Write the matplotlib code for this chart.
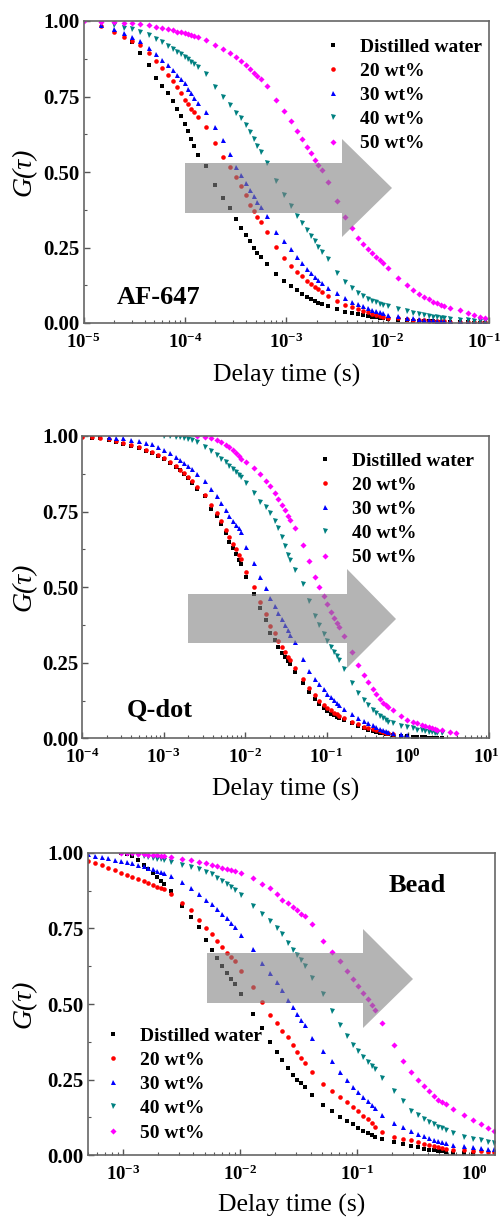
import numpy as np
import matplotlib
matplotlib.use('Agg')
import matplotlib.pyplot as plt
import matplotlib.transforms as mtransforms
from matplotlib.patches import Polygon
from matplotlib.ticker import FixedLocator, FuncFormatter, LogLocator, NullFormatter, FormatStrFormatter

nan = np.nan

SERIES_LABELS = ['Distilled water', '20 wt%', '30 wt%', '40 wt%', '50 wt%']

# ---------------- Panel 1: AF-647 ----------------
AF_X = [1.0e-5, 1.5e-5, 2.0e-5, 2.5e-5, 3.0e-5, 3.6e-5, 4.4e-5, 5.2e-5, 6.0e-5, 6.8e-5, 7.6e-5, 8.4e-5, 9.2e-5, 1.0e-4, 1.08e-4, 1.16e-4, 1.24e-4, 1.35e-4,
        1.6e-4, 2.0e-4, 2.4e-4, 2.8e-4, 3.2e-4, 3.6e-4, 4.0e-4, 4.4e-4, 4.8e-4, 5.2e-4, 5.6e-4,
        6.4e-4, 8.0e-4, 9.6e-4, 1.12e-3, 1.28e-3, 1.44e-3, 1.6e-3, 1.76e-3, 1.92e-3, 2.08e-3, 2.24e-3,
        2.56e-3, 3.2e-3, 3.84e-3, 4.48e-3, 5.12e-3, 5.76e-3, 6.4e-3, 7.04e-3, 7.68e-3, 8.32e-3, 8.96e-3,
        1.02e-2, 1.28e-2, 1.54e-2, 1.79e-2, 2.05e-2, 2.3e-2, 2.56e-2, 2.82e-2, 3.07e-2, 3.33e-2, 3.58e-2,
        4.1e-2, 5.12e-2, 6.14e-2, 7.17e-2, 8.19e-2, 9.2e-2]
AF_WATER = [nan, nan, nan, nan, 0.93, 0.895, 0.855, 0.81, 0.785, 0.76, 0.735, 0.71, 0.685, 0.66, 0.635, 0.61, 0.585, 0.556,
            0.52, 0.457, 0.413, 0.38, 0.345, 0.315, 0.29, 0.27, 0.25, 0.232, 0.218,
            0.195, 0.163, 0.14, 0.122, 0.108, 0.097, 0.087, 0.08, 0.073, 0.067, 0.062,
            0.055, 0.045, 0.038, 0.033, 0.029, 0.026, 0.023, 0.021, 0.019, 0.017, 0.015,
            0.013, 0.011, 0.009, 0.008, 0.007, 0.006, 0.005, 0.005, 0.004, 0.004, 0.003,
            0.003, 0.002, 0.002, 0.001, 0.001, 0.001]
AF_20 = [nan, 0.984, 0.965, 0.948, 0.935, 0.92, 0.893, 0.868, 0.845, 0.82, 0.8, 0.78, 0.76, 0.74, 0.725, 0.71, 0.698, 0.683,
         0.65, 0.595, 0.55, 0.515, 0.483, 0.455, 0.425, 0.39, 0.37, 0.35, 0.335,
         0.30, 0.253, 0.215, 0.19, 0.17, 0.155, 0.14, 0.13, 0.12, 0.112, 0.104,
         0.09, 0.073, 0.061, 0.052, 0.045, 0.04, 0.035, 0.031, 0.027, 0.024, 0.021,
         0.018, 0.015, 0.013, 0.011, 0.01, 0.009, 0.008, 0.007, 0.006, 0.006, 0.005,
         0.004, 0.003, 0.003, 0.002, 0.002, 0.002]
AF_30 = [nan, 0.987, 0.974, 0.96, 0.948, 0.935, 0.91, 0.89, 0.872, 0.855, 0.838, 0.822, 0.808, 0.794, 0.775, 0.76, 0.745, 0.727,
         0.70, 0.65, 0.606, 0.56, 0.518, 0.49, 0.463, 0.44, 0.42, 0.40, 0.385,
         0.355, 0.30, 0.27, 0.245, 0.22, 0.198, 0.18, 0.166, 0.153, 0.141, 0.131,
         0.117, 0.098, 0.083, 0.071, 0.062, 0.055, 0.049, 0.044, 0.04, 0.036, 0.033,
         0.028, 0.022, 0.018, 0.015, 0.013, 0.011, 0.01, 0.009, 0.008, 0.007, 0.007,
         0.006, 0.005, 0.004, 0.004, 0.003, 0.003]
AF_40 = [nan, 0.992, 0.987, 0.978, 0.972, 0.965, 0.952, 0.94, 0.93, 0.918, 0.908, 0.898, 0.89, 0.882, 0.873, 0.865, 0.858, 0.849,
         0.823, 0.78, 0.75, 0.722, 0.697, 0.678, 0.655, 0.632, 0.61, 0.585, 0.565,
         0.53, 0.47, 0.425, 0.388, 0.355, 0.33, 0.307, 0.288, 0.27, 0.252, 0.236,
         0.212, 0.164, 0.135, 0.115, 0.1, 0.089, 0.08, 0.073, 0.068, 0.063, 0.06,
         0.055, 0.046, 0.039, 0.034, 0.03, 0.027, 0.024, 0.021, 0.019, 0.017, 0.016,
         0.013, 0.011, 0.009, 0.008, 0.007, 0.006]
AF_50 = [1.0, 0.998, 0.996, 0.994, 0.992, 0.99, 0.986, 0.981, 0.977, 0.973, 0.969, 0.965, 0.962, 0.959, 0.956, 0.953, 0.95, 0.947,
         0.937, 0.922, 0.908, 0.894, 0.88, 0.866, 0.853, 0.84, 0.828, 0.817, 0.808,
         0.785, 0.74, 0.703, 0.668, 0.637, 0.608, 0.584, 0.562, 0.54, 0.522, 0.507,
         0.468, 0.403, 0.35, 0.313, 0.283, 0.26, 0.245, 0.232, 0.22, 0.208, 0.198,
         0.181, 0.148, 0.125, 0.109, 0.097, 0.086, 0.078, 0.071, 0.065, 0.06, 0.056,
         0.05, 0.042, 0.033, 0.026, 0.02, 0.016]

# ---------------- Panel 2: Q-dot ----------------
QD_X = [1.0e-4, 1.3e-4, 1.65e-4, 2.1e-4, 2.6e-4, 3.2e-4, 4.0e-4, 5.0e-4, 6.0e-4, 7.2e-4, 8.5e-4, 1.0e-3, 1.2e-3, 1.4e-3, 1.6e-3, 1.8e-3, 2.0e-3, 2.24e-3,
        2.56e-3, 3.2e-3, 3.84e-3, 4.48e-3, 5.12e-3, 5.76e-3, 6.4e-3, 7.04e-3, 7.68e-3, 8.32e-3, 8.96e-3,
        1.02e-2, 1.28e-2, 1.54e-2, 1.79e-2, 2.05e-2, 2.3e-2, 2.56e-2, 2.82e-2, 3.07e-2, 3.33e-2, 3.58e-2,
        4.1e-2, 5.12e-2, 6.14e-2, 7.17e-2, 8.19e-2, 9.22e-2, 0.102, 0.113, 0.123, 0.133, 0.143,
        0.164, 0.205, 0.246, 0.287, 0.328, 0.369, 0.41, 0.451, 0.492, 0.532, 0.573,
        0.655, 0.82, 0.98, 1.15, 1.31, 1.47, 1.64, 1.8, 1.97, 2.13, 2.29,
        2.62, 3.28, 3.93]
QD_WATER = [0.998, 0.995, 0.992, 0.987, 0.981, 0.975, 0.968, 0.959, 0.952, 0.945, 0.935, 0.925, 0.91, 0.897, 0.886, 0.873, 0.86, 0.846,
            0.826, 0.8, 0.76, 0.735, 0.71, 0.678, 0.65, 0.628, 0.61, 0.59, 0.576,
            0.535, 0.478, 0.43, 0.39, 0.348, 0.325, 0.302, 0.283, 0.268, 0.256, 0.245,
            0.22, 0.184, 0.153, 0.13, 0.112, 0.1, 0.09, 0.082, 0.076, 0.071, 0.066,
            0.06, 0.049, 0.041, 0.034, 0.029, 0.025, 0.021, 0.018, 0.016, 0.014, 0.013,
            0.011, 0.008, 0.006, 0.005, 0.004, 0.003, 0.003, 0.002, 0.002, 0.001, 0.001,
            0.001, nan, nan]
QD_20 = [0.998, 0.996, 0.993, 0.989, 0.984, 0.978, 0.971, 0.962, 0.955, 0.947, 0.938, 0.928, 0.913, 0.9, 0.889, 0.877, 0.864, 0.85,
         0.832, 0.806, 0.772, 0.745, 0.72, 0.69, 0.665, 0.643, 0.625, 0.607, 0.592,
         0.55, 0.5, 0.452, 0.41, 0.37, 0.347, 0.322, 0.302, 0.285, 0.27, 0.259,
         0.232, 0.195, 0.165, 0.142, 0.124, 0.11, 0.1, 0.092, 0.085, 0.08, 0.075,
         0.067, 0.055, 0.046, 0.039, 0.034, 0.03, 0.026, 0.023, 0.021, 0.019, 0.017,
         0.015, nan, nan, nan, nan, nan, nan, nan, nan, nan, nan,
         nan, nan, nan]
QD_30 = [nan, nan, nan, 0.998, 0.995, 0.992, 0.988, 0.983, 0.978, 0.972, 0.963, 0.955, 0.943, 0.932, 0.922, 0.912, 0.902, 0.89,
         0.873, 0.85, 0.824, 0.8, 0.777, 0.755, 0.735, 0.72, 0.707, 0.695, 0.683,
         0.632, 0.58, 0.535, 0.497, 0.465, 0.437, 0.415, 0.395, 0.375, 0.358, 0.342,
         0.318, 0.262, 0.222, 0.195, 0.178, 0.162, 0.148, 0.136, 0.126, 0.117, 0.11,
         0.097, 0.08, 0.067, 0.057, 0.049, 0.043, 0.037, 0.032, 0.028, 0.025, 0.022,
         0.018, 0.013, 0.01, nan, nan, nan, nan, nan, nan, nan, nan,
         nan, nan, nan]
QD_40 = [nan, nan, nan, nan, nan, nan, nan, nan, nan, nan, nan, 1.0, 0.999, 0.998, 0.996, 0.993, 0.99, 0.987,
         0.98, 0.965, 0.95, 0.937, 0.925, 0.913, 0.9, 0.89, 0.88, 0.871, 0.863,
         0.845, 0.81, 0.783, 0.765, 0.745, 0.72, 0.695, 0.665, 0.635, 0.608, 0.59,
         0.557, 0.51, 0.455, 0.405, 0.375, 0.345, 0.322, 0.302, 0.285, 0.271, 0.259,
         0.228, 0.182, 0.15, 0.128, 0.11, 0.094, 0.083, 0.074, 0.066, 0.06, 0.055,
         0.05, 0.042, 0.037, 0.033, 0.029, 0.026, 0.024, 0.022, 0.02, 0.018, 0.017,
         0.016, nan, nan]
QD_50 = [nan, nan, nan, nan, nan, nan, nan, nan, nan, nan, nan, nan, nan, nan, nan, nan, nan, nan,
         0.999, 0.998, 0.993, 0.987, 0.979, 0.97, 0.962, 0.955, 0.945, 0.935, 0.925,
         0.915, 0.895, 0.873, 0.852, 0.835, 0.81, 0.79, 0.772, 0.755, 0.737, 0.722,
         0.695, 0.64, 0.585, 0.535, 0.5, 0.47, 0.443, 0.418, 0.398, 0.383, 0.369,
         0.34, 0.285, 0.243, 0.21, 0.185, 0.162, 0.145, 0.13, 0.118, 0.11, 0.104,
         0.092, 0.073, 0.062, 0.054, 0.049, 0.044, 0.04, 0.037, 0.034, 0.031, 0.029,
         0.026, 0.022, 0.019]

# ---------------- Panel 3: Bead ----------------
BD_X = [5.0e-4, 5.8e-4, 6.6e-4, 7.5e-4, 8.5e-4, 9.6e-4, 1.08e-3, 1.2e-3, 1.35e-3, 1.5e-3, 1.65e-3, 1.8e-3, 1.95e-3, 2.1e-3, 2.24e-3,
        2.56e-3, 3.2e-3, 3.84e-3, 4.48e-3, 5.12e-3, 5.76e-3, 6.4e-3, 7.04e-3, 7.68e-3, 8.32e-3, 8.96e-3,
        1.02e-2, 1.28e-2, 1.54e-2, 1.79e-2, 2.05e-2, 2.3e-2, 2.56e-2, 2.82e-2, 3.07e-2, 3.33e-2, 3.58e-2,
        4.1e-2, 5.12e-2, 6.14e-2, 7.17e-2, 8.19e-2, 9.22e-2, 0.102, 0.113, 0.123, 0.133, 0.143,
        0.164, 0.205, 0.246, 0.287, 0.328, 0.369, 0.41, 0.451, 0.492, 0.532, 0.573,
        0.655, 0.82, 0.98, 1.15, 1.31, 1.47]
BD_WATER = [nan, nan, nan, nan, nan, 1.0, 0.996, 0.988, 0.975, 0.96, 0.946, 0.933, 0.92, 0.907, 0.896,
            0.872, 0.823, 0.787, 0.755, 0.71, 0.68, 0.652, 0.625, 0.602, 0.582, 0.566,
            0.532, 0.466, 0.42, 0.375, 0.342, 0.315, 0.29, 0.265, 0.25, 0.238, 0.226,
            0.2, 0.167, 0.145, 0.128, 0.114, 0.102, 0.091, 0.081, 0.073, 0.066, 0.06,
            0.053, 0.044, 0.037, 0.031, 0.026, 0.022, 0.019, 0.016, 0.014, 0.013, 0.012,
            0.009, 0.006, 0.004, nan, nan, nan]
BD_20 = [0.973, 0.966, 0.958, 0.95, 0.942, 0.933, 0.926, 0.92, 0.913, 0.905, 0.899, 0.893, 0.888, 0.884, 0.881,
         0.865, 0.835, 0.81, 0.778, 0.75, 0.73, 0.707, 0.688, 0.67, 0.655, 0.642,
         0.61, 0.556, 0.505, 0.465, 0.437, 0.41, 0.39, 0.365, 0.342, 0.322, 0.304,
         0.275, 0.237, 0.213, 0.193, 0.176, 0.16, 0.145, 0.131, 0.119, 0.107, 0.095,
         0.076, 0.062, 0.055, 0.049, 0.043, 0.038, 0.034, 0.03, 0.026, 0.024, 0.022,
         0.018, 0.016, 0.014, 0.013, 0.012, 0.011]
BD_30 = [0.995, 0.99, 0.986, 0.982, 0.977, 0.973, 0.969, 0.965, 0.96, 0.955, 0.95, 0.945, 0.94, 0.937, 0.933,
         0.922, 0.902, 0.884, 0.862, 0.845, 0.83, 0.813, 0.798, 0.783, 0.768, 0.754,
         0.728, 0.682, 0.636, 0.602, 0.572, 0.545, 0.512, 0.49, 0.468, 0.448, 0.43,
         0.388, 0.345, 0.31, 0.276, 0.248, 0.226, 0.21, 0.192, 0.178, 0.165, 0.155,
         0.133, 0.108, 0.093, 0.08, 0.071, 0.064, 0.058, 0.052, 0.047, 0.044, 0.041,
         0.035, 0.03, 0.026, 0.023, 0.021, 0.02]
BD_40 = [nan, nan, nan, nan, nan, nan, nan, 0.996, 0.993, 0.99, 0.987, 0.983, 0.98, 0.978, 0.976,
         0.968, 0.96, 0.954, 0.945, 0.937, 0.928, 0.918, 0.907, 0.897, 0.887, 0.877,
         0.859, 0.825, 0.797, 0.775, 0.752, 0.73, 0.7, 0.68, 0.662, 0.645, 0.625,
         0.585, 0.534, 0.478, 0.432, 0.395, 0.366, 0.345, 0.326, 0.309, 0.295, 0.284,
         0.255, 0.212, 0.178, 0.147, 0.132, 0.119, 0.11, 0.103, 0.095, 0.089, 0.085,
         0.073, 0.062, 0.055, 0.05, 0.045, 0.04]
BD_50 = [nan, nan, nan, nan, nan, 1.0, 0.999, 0.998, 0.997, 0.996, 0.994, 0.992, 0.991, 0.99, 0.989,
         0.986, 0.98, 0.975, 0.97, 0.965, 0.96, 0.955, 0.951, 0.947, 0.943, 0.94,
         0.934, 0.915, 0.898, 0.882, 0.863, 0.844, 0.833, 0.822, 0.81, 0.799, 0.79,
         0.763, 0.708, 0.672, 0.641, 0.61, 0.583, 0.558, 0.535, 0.515, 0.496, 0.479,
         0.438, 0.365, 0.313, 0.275, 0.25, 0.23, 0.213, 0.197, 0.184, 0.176, 0.168,
         0.154, 0.132, 0.117, 0.103, 0.09, 0.08]

PANEL_NAMES = ['AF-647', 'Q-dot', 'Bead']
Y_TICKS = [0.0, 0.25, 0.5, 0.75, 1.0]

# ---------------- styling ----------------
plt.rcParams['font.family'] = ['Liberation Serif', 'DejaVu Serif']
plt.rcParams['font.weight'] = 'bold'
plt.rcParams['mathtext.fontset'] = 'custom'
plt.rcParams['mathtext.rm'] = 'Liberation Serif:bold'
plt.rcParams['mathtext.bf'] = 'Liberation Serif:bold'
plt.rcParams['mathtext.it'] = 'Liberation Serif:italic:bold'

W, H = 501, 1217
fig = plt.figure(figsize=(W / 100, H / 100), dpi=100)

def fr(px_l, px_t, px_r, px_b):
    return [px_l / W, 1 - px_b / H, (px_r - px_l) / W, (px_b - px_t) / H]

STYLES = [('s', '#000000', 3.0), ('o', '#ff0000', 3.3), ('^', '#0000ff', 3.6),
          ('v', '#008080', 3.6), ('D', '#ff00ff', 3.1)]

def log_fmt(v, pos):
    if v <= 0:
        return ''
    e = int(np.round(np.log10(v)))
    return r'$\mathbf{10^{%d}}$' % e

def make_panel(rect, x, ys, xlim, xticks, name, name_xy, leg_xy, arrow, xlabel_y, last_shift=0):
    ax = fig.add_axes(fr(*rect))
    for y, lab, (m, c, ms) in zip(ys, SERIES_LABELS, STYLES):
        ax.plot(x, y, linestyle='none', marker=m, ms=ms, color=c, mec=c, mew=0, label=lab)
    ax.set_xscale('log')
    ax.set_xlim(*xlim)
    ax.set_ylim(0, 1.0)
    ax.xaxis.set_major_locator(FixedLocator(xticks))
    ax.xaxis.set_major_formatter(FuncFormatter(log_fmt))
    ax.xaxis.set_minor_locator(LogLocator(base=10, subs=np.arange(2, 10), numticks=20))
    ax.xaxis.set_minor_formatter(NullFormatter())
    ax.set_yticks(Y_TICKS)
    ax.set_yticks([0.125, 0.375, 0.625, 0.875], minor=True)
    ax.yaxis.set_major_formatter(FormatStrFormatter('%.2f'))
    ax.tick_params(which='both', direction='in', top=False, right=False, colors='#555555', labelcolor='black')
    ax.tick_params(which='major', length=4.5, width=1.0)
    ax.tick_params(which='minor', length=2.5, width=0.8)
    ax.tick_params(axis='y', labelsize=15, pad=3)
    ax.tick_params(axis='x', labelsize=13.5, pad=7)
    for s in ax.spines.values():
        s.set_color('#666666')
        s.set_linewidth(1.2)
    if last_shift:
        ticks = ax.xaxis.get_major_ticks(len(xticks))
        lbl = ticks[-1].label1
        lbl.set_transform(lbl.get_transform() +
                          mtransforms.ScaledTranslation(-last_shift / 100, 0, fig.dpi_scale_trans))
    ax.set_xlabel('Delay time (s)', fontsize=18.5, fontweight='normal')
    ax.xaxis.set_label_coords(0.5, -(xlabel_y - rect[3]) / (rect[3] - rect[1]))
    ax.xaxis.label.set_va('center')
    ax.set_ylabel('G(τ)', fontsize=20, fontweight='normal', fontstyle='italic')
    ax.yaxis.set_label_coords(-(rect[0] - 24) / (rect[2] - rect[0]), 0.5)
    ax.yaxis.label.set_va('center')
    # arrow
    bx0, bx1, by0, by1, hy0, hy1, tx, ty = arrow
    pts = [(bx0, by0), (bx1, by0), (bx1, hy0), (tx, ty), (bx1, hy1), (bx1, by1), (bx0, by1)]
    pts = [(px / W, 1 - py / H) for px, py in pts]
    poly = Polygon(pts, closed=True, transform=fig.transFigure, facecolor='#828282',
                   edgecolor='none', alpha=0.6, zorder=5)
    ax.add_patch(poly)
    fig.text(name_xy[0] / W, 1 - name_xy[1] / H, name, fontsize=19, fontweight='bold',
             ha='center', va='center')
    leg = ax.legend(loc='upper left', bbox_to_anchor=(leg_xy[0] / W, 1 - leg_xy[1] / H),
                    bbox_transform=fig.transFigure, frameon=False, fontsize=14,
                    handlelength=0.8, handletextpad=1.0, labelspacing=0.34,
                    borderpad=0, borderaxespad=0, numpoints=1, markerscale=1.0)
    leg.set_zorder(10)
    return ax

make_panel((83.5, 21, 489, 323), AF_X, [AF_WATER, AF_20, AF_30, AF_40, AF_50],
           (1e-5, 1e-1), [1e-5, 1e-4, 1e-3, 1e-2, 1e-1], PANEL_NAMES[0], (159, 297),
           (325, 38), (185, 342, 163, 213, 139, 237, 392, 188), 375, last_shift=5)
make_panel((82.3, 436, 489.3, 738.3), QD_X, [QD_WATER, QD_20, QD_30, QD_40, QD_50],
           (1e-4, 1e1), [1e-4, 1e-3, 1e-2, 1e-1, 1e0, 1e1], PANEL_NAMES[1], (159.5, 710),
           (317, 452), (188, 347, 594, 643, 569, 668, 396, 619), 789, last_shift=3)
make_panel((87.7, 852.7, 495, 1155.3), BD_X, [BD_WATER, BD_20, BD_30, BD_40, BD_50],
           (5e-4, 1.5), [1e-3, 1e-2, 1e-1, 1e0], PANEL_NAMES[2], (417.5, 885),
           (105, 1027), (207, 363, 953, 1003, 929, 1028, 413, 979), 1205)

fig.savefig('out.png', dpi=100)
